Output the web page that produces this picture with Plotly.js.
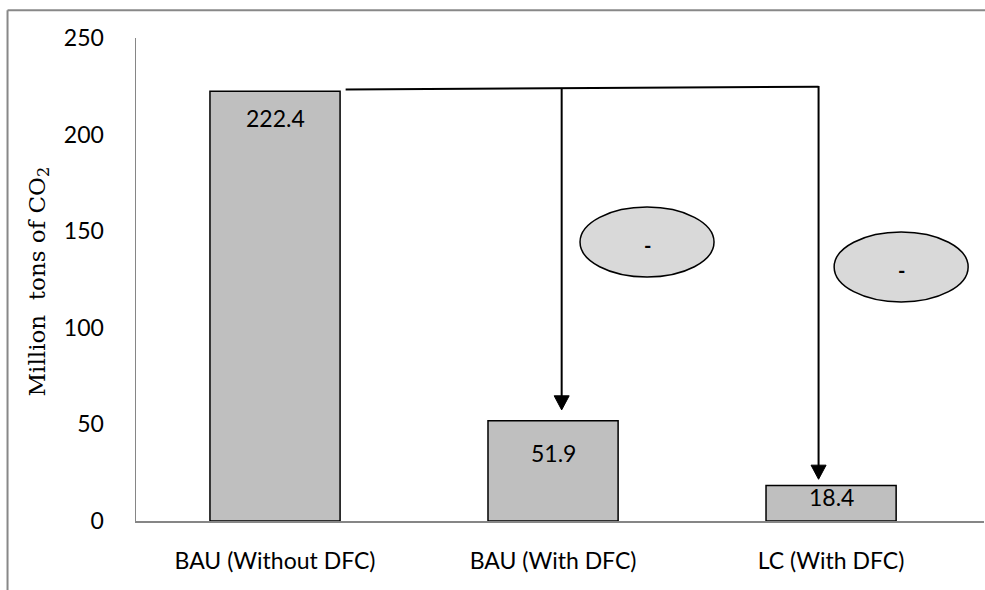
<!DOCTYPE html>
<html><head><meta charset="utf-8">
<script src="https://cdn.plot.ly/plotly-3.0.1.min.js"></script>
<style>html,body{margin:0;padding:0;background:#fff}#chart{width:985px;height:590px}</style>
</head><body><div id="chart"></div>
<script>
// ---- data ----
const categories = ['BAU (Without DFC)', 'BAU (With DFC)', 'LC (With DFC)'];
const emissions = [222.4, 51.9, 18.4];
const valueLabels = ['222.4', '51.9', '18.4'];
const yTickValues = [0, 50, 100, 150, 200, 250];
const yTickLabels = ['0', '50', '100', '150', '200', '250'];
const reductionMarks = ['-', '-'];

// ---- styling / decoration geometry ----
const xIdx = categories.map((c, i) => i);
const labelShift = [-27, -32, -12];
const levelLine = {x0: 0.254, y0: 223.4, x1: 1.955, y1: 224.8};
const arrows = [{x: 1.031, tail: 223.7, tip: 57.5}, {x: 1.955, tail: 225.2, tip: 21.6}];
const headLen = 7.3, headHalf = 0.027;
const ellipses = [
  {x0: 1.097, x1: 1.579, y0: 126.3, y1: 162.5},
  {x0: 2.011, x1: 2.493, y0: 113.4, y1: 149.6}
];
const FONT = 'Lato, "Open Sans", sans-serif';

const trace = {
  type: 'bar', x: xIdx, y: emissions, width: 0.468,
  marker: {color: '#bfbfbf', line: {color: '#000000', width: 1.5}},
  hoverinfo: 'skip', showlegend: false
};

const annotations = [];
emissions.forEach((v, i) => annotations.push({
  x: xIdx[i], y: v, xref: 'x', yref: 'y', text: valueLabels[i], showarrow: false,
  yanchor: 'middle', yshift: labelShift[i], font: {family: FONT, size: 23, color: '#000'}
}));
ellipses.forEach((e, i) => annotations.push({
  x: (e.x0 + e.x1) / 2, y: (e.y0 + e.y1) / 2, xref: 'x', yref: 'y', text: '<b>' + reductionMarks[i] + '</b>',
  showarrow: false, yshift: -3, font: {family: FONT, size: 20, color: '#000'}
}));
annotations.push({
  xref: 'paper', yref: 'paper', x: -0.1144, y: 0.4959, xanchor: 'center', yanchor: 'middle',
  textangle: -90, showarrow: false,
  text: 'Million\u00a0 tons of CO<sub>2</sub>',
  font: {family: '"DejaVu Serif", "Liberation Serif", serif', size: 23, color: '#000'}
});

const shapes = [
  {type: 'line', xref: 'x', yref: 'y', x0: levelLine.x0, y0: levelLine.y0, x1: levelLine.x1, y1: levelLine.y1,
   line: {color: '#000', width: 2}},
  ...arrows.map(a => ({type: 'line', xref: 'x', yref: 'y', x0: a.x, x1: a.x, y0: a.tail, y1: a.tip + headLen * 0.5,
    line: {color: '#000', width: 2}})),
  ...arrows.map(a => ({type: 'path', xref: 'x', yref: 'y',
    path: 'M' + a.x + ',' + a.tip + ' L' + (a.x - headHalf) + ',' + (a.tip + headLen) +
          ' L' + (a.x + headHalf) + ',' + (a.tip + headLen) + ' Z',
    fillcolor: '#000', line: {color: '#000', width: 1}})),
  ...ellipses.map(e => ({type: 'circle', xref: 'x', yref: 'y', x0: e.x0, x1: e.x1, y0: e.y0, y1: e.y1,
    fillcolor: '#d9d9d9', line: {color: '#000', width: 1.5}, layer: 'above'})),
  {type: 'line', xref: 'paper', yref: 'paper', x0: -0.1515, y0: -0.2, x1: -0.1515, y1: 1.0575,
   line: {color: '#888888', width: 2}},
  {type: 'line', xref: 'paper', yref: 'paper', x0: -0.1515, y0: 1.0575, x1: 1.03, y1: 1.0575,
   line: {color: '#888888', width: 2}}
];

const layout = {
  width: 985, height: 590,
  margin: {l: 136, r: 1, t: 38, b: 69, pad: 0},
  paper_bgcolor: '#ffffff', plot_bgcolor: '#ffffff',
  showlegend: false,
  xaxis: {
    range: [-0.5, 2.55], tickvals: xIdx, ticktext: categories,
    showgrid: false, zeroline: false, showline: true, linecolor: '#868686', linewidth: 1.5,
    ticks: '', ticklabelstandoff: 19, tickfont: {family: FONT, size: 23, color: '#000'}, fixedrange: true
  },
  yaxis: {
    range: [0, 250], tickvals: yTickValues, ticktext: yTickLabels,
    showgrid: false, zeroline: false, showline: true, linecolor: '#868686', linewidth: 1.5,
    ticks: '', ticklabelstandoff: 26, tickfont: {family: FONT, size: 23, color: '#000'}, fixedrange: true
  },
  annotations: annotations,
  shapes: shapes
};

Plotly.newPlot('chart', [trace], layout, {staticPlot: true, displayModeBar: false});
</script>
</body></html>
